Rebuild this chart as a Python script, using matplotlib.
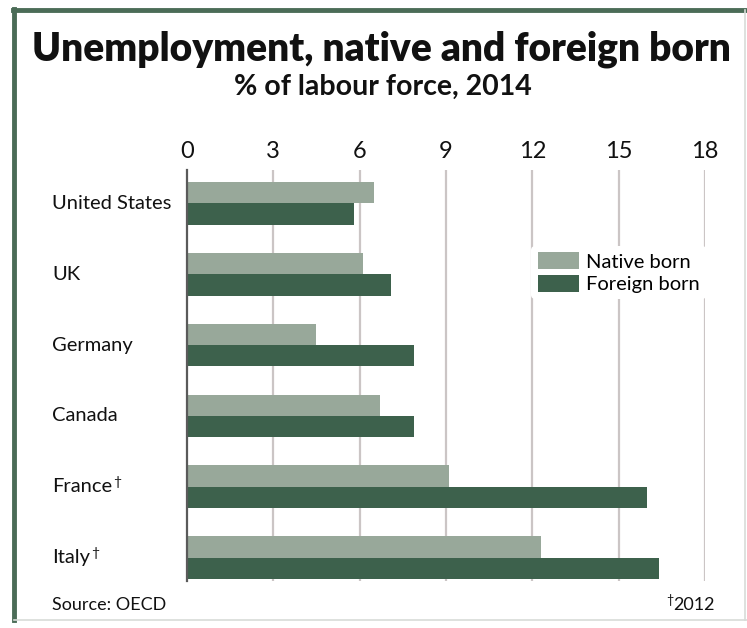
import matplotlib.pyplot as plt
from matplotlib.lines import Line2D
from matplotlib.transforms import blended_transform_factory
import numpy as np

countries = ['United States', 'UK', 'Germany', 'Canada', 'France', 'Italy']
marked = [False, False, False, False, True, True]   # figures for 2012
native_born = [6.5, 6.1, 4.5, 6.7, 9.1, 12.3]
foreign_born = [5.8, 7.1, 7.9, 7.9, 16.0, 16.4]
x_ticks = [0, 3, 6, 9, 12, 15, 18]

native_col = '#98a89a'
foreign_col = '#3d614c'
frame_col = '#4b6c57'
grid_col = '#cbc5c5'

plt.rcParams['font.family'] = ['Lato', 'DejaVu Sans']

fig = plt.figure(figsize=(7.47, 6.28), dpi=100)
fig.patch.set_facecolor('white')

# outer frame: heavy green on left/top, faint grey on right/bottom
fig.add_artist(Line2D([0.019, 0.019], [0.013, 0.986], transform=fig.transFigure, color=frame_col, lw=3.5))
fig.add_artist(Line2D([0.017, 1.0], [0.984, 0.984], transform=fig.transFigure, color=frame_col, lw=3.5))
fig.add_artist(Line2D([0.997, 0.997], [0.013, 0.984], transform=fig.transFigure, color='#d8dcd8', lw=1.2))
fig.add_artist(Line2D([0.019, 1.0], [0.012, 0.012], transform=fig.transFigure, color='#d8dcd8', lw=1.2))

fig.text(0.511, 0.921, 'Unemployment, native and foreign born', ha='center', va='center',
         fontsize=28, fontweight='heavy', color='#111111')
fig.text(0.513, 0.862, '% of labour force, 2014', ha='center', va='center',
         fontsize=20.5, fontweight='bold', color='#111111')

ax = fig.add_axes([0.2503, 0.075, 0.6935, 0.654])

y = np.arange(len(countries))
h = 0.3
ax.barh(y - h / 2, native_born, height=h, color=native_col, label='Native born', zorder=3)
ax.barh(y + h / 2, foreign_born, height=h, color=foreign_col, label='Foreign born', zorder=3)

ax.set_xlim(0, 18)
ax.set_ylim(len(countries) - 1 + 0.33, -0.47)
ax.set_xticks(x_ticks)
ax.xaxis.tick_top()
ax.tick_params(axis='x', length=0, pad=6, labelsize=17, labelcolor='#111111')
ax.set_yticks([])
for s in ['top', 'right', 'bottom']:
    ax.spines[s].set_visible(False)
ax.spines['left'].set_color('#5a5a5a')
ax.spines['left'].set_linewidth(1.6)
ax.spines['left'].set_zorder(4)
for t in x_ticks[1:]:
    ax.axvline(t, color=grid_col, lw=1.6, zorder=1)

# country names, with a raised dagger for the 2012 figures
label_tr = blended_transform_factory(fig.transFigure, ax.transData)
for yi, name, m in zip(y, countries, marked):
    txt = ax.text(0.07, yi, name, transform=label_tr,
                  ha='left', va='center', fontsize=14.5, color='#111111')
    if m:
        ax.annotate('†', xy=(1.0, 1.0), xycoords=txt, xytext=(0.5, 1.5), textcoords='offset points',
                    ha='left', va='top', fontsize=10, color='#111111')

leg = ax.legend(loc='upper left', bbox_to_anchor=(0.665, 0.815), frameon=True, fontsize=14.5,
                handlelength=2.05, handleheight=0.9, handletextpad=0.35, labelspacing=0.22,
                borderpad=0.3, borderaxespad=0)
leg.get_frame().set_facecolor('white')
leg.get_frame().set_edgecolor('none')
leg.get_frame().set_alpha(1)
leg.set_zorder(5)

fig.text(0.07, 0.036, 'Source: OECD', ha='left', va='center', fontsize=13, color='#111111')
fig.text(0.957, 0.036, '2012', ha='right', va='center', fontsize=13, color='#111111')
fig.text(0.902, 0.045, '†', ha='right', va='center', fontsize=9, color='#111111')

fig.savefig('out.png', dpi=100, facecolor='white')
